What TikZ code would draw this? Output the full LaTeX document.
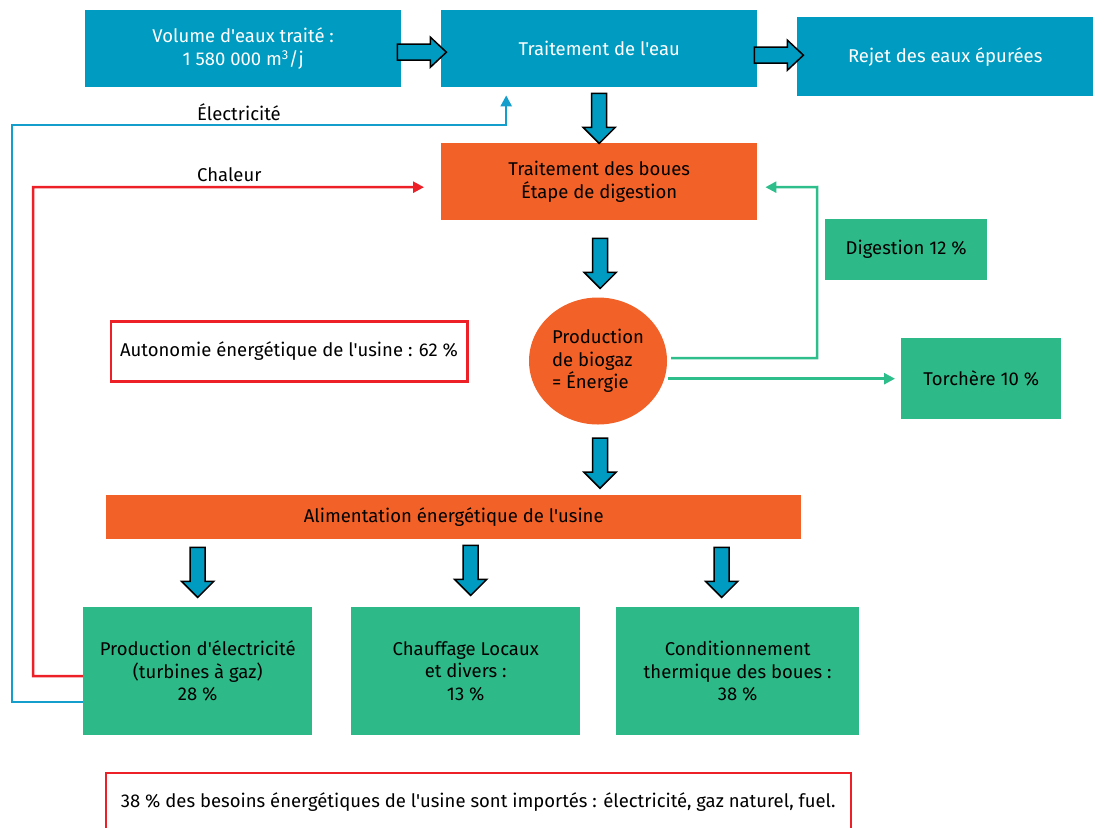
\documentclass[tikz,border=0pt]{standalone}
\usepackage{fontspec}
\setmainfont{Fira Sans}[Ligatures=TeXOff]
\usetikzlibrary{calc,arrows.meta,shapes.geometric}
\definecolor{cblue}{RGB}{0,155,192}
\definecolor{corange}{RGB}{242,97,39}
\definecolor{cgreen}{RGB}{46,185,137}
\definecolor{cred}{RGB}{237,31,39}
\definecolor{cline}{RGB}{20,158,204}
\definecolor{cgline}{RGB}{46,190,140}
\tikzset{
  txt/.style={font=\fontsize{18.5}{22.5}\selectfont},
  bx/.style={rectangle, inner sep=0pt, anchor=north west, align=center, txt},
  bluebox/.style={bx, fill=cblue, text=white},
  orangebox/.style={bx, fill=corange},
  greenbox/.style={bx, fill=cgreen},
  redbox/.style={bx, draw=cred, line width=2.5pt, fill=white},
  fatarrow/.style={draw=black, line width=1.5pt, fill=cblue, line join=miter},
  fatdown/.pic={\path[fatarrow] (-7.5,0) -- (-7.5,-34) -- (-16,-34) -- (0,-50) -- (16,-34) -- (7.5,-34) -- (7.5,0) -- cycle;},
  fatright/.pic={\path[fatarrow] (0,-8) -- (33,-8) -- (33,-15) -- (49,0) -- (33,15) -- (33,8) -- (0,8) -- cycle;},
  conn/.style={line width=2.5pt, -{Triangle[length=11pt,width=11pt]}},
}
\begin{document}
\begin{tikzpicture}[x=1pt,y=1pt]
\useasboundingbox (0,0) rectangle (1105,-827);
% top row
\node[bluebox, minimum width=316pt, minimum height=77pt] (vol) at (85,-10) {Volume d'eaux traité :\\1 580 000 m\textsuperscript{3}/j};
\node[bluebox, minimum width=316pt, minimum height=77pt] (wat) at (441,-10) {Traitement de l'eau};
\node[bluebox, minimum width=296pt, minimum height=79pt] (rej) at (797,-17) {Rejet des eaux épurées};
% sludge
\node[orangebox, minimum width=316pt, minimum height=77pt] (boues) at (441,-143) {Traitement des boues\\Étape de digestion};
\node[greenbox, minimum width=162pt, minimum height=61pt] (dig) at (825,-219) {Digestion 12 \%};
\node[ellipse, fill=corange, inner sep=0pt, minimum width=138pt, minimum height=127pt, align=left, txt] (bio) at (598,-361) {Production\\de biogaz\\= Énergie};
\node[greenbox, minimum width=160pt, minimum height=81pt] (torch) at (901,-338) {Torchère 10 \%};
\node[redbox, minimum width=356.5pt, minimum height=60pt] (auto) at (109.5,-320) {Autonomie énergétique de l'usine : 62 \%};
\node[orangebox, minimum width=695pt, minimum height=44pt] (alim) at (106,-495) {Alimentation énergétique de l'usine};
% bottom row
\node[greenbox, minimum width=229pt, minimum height=128pt] (prod) at (83,-607) {Production d'électricité\\(turbines à gaz)\\28 \%};
\node[greenbox, minimum width=229pt, minimum height=128pt] (chauf) at (351,-607) {Chauffage Locaux\\et divers :\\13 \%};
\node[greenbox, minimum width=243pt, minimum height=128pt] (cond) at (616,-607) {Conditionnement\\thermique des boues :\\38 \%};
\node[redbox, minimum width=745pt, minimum height=58pt] (imp) at (104.5,-771.5) {38 \% des besoins énergétiques de l'usine sont importés : électricité, gaz naturel, fuel.};
% fat arrows
\pic at ($(vol.east)+(-4,-3.5)$) {fatright};
\pic at ($(wat.east)+(-3,-6.5)$) {fatright};
\pic at ($(wat.south)+(0,-6)$) {fatdown};
\pic at ($(boues.south)+(1,-18)$) {fatdown};
\pic at ($(bio.south)+(2,-13.5)$) {fatdown};
\pic at ($(alim.south -| prod.north)+(0,-8)$) {fatdown};
\pic at ($(alim.south -| chauf.north)+(5,-6)$) {fatdown};
\pic at ($(alim.south -| cond.north)+(-16,-8)$) {fatdown};
% connectors
\draw[conn, cline] ($(prod.west)+(0,-31)$) -| (12,-125) -| ($(wat.south)+(-93,-8)$);
\draw[conn, cred] ($(prod.west)+(0,-5)$) -| (33,-187) -- ($(boues.west)+(-17,-5.5)$);
\draw[conn, cgline] ($(bio.east)+(4,3)$) -| (817,-187) -- ($(boues.east)+(8,-5.5)$);
\draw[conn, cgline] ($(bio.east |- torch.west)+(1,0)$) -- ($(torch.west)+(-6,0)$);
% labels
\node[txt, anchor=west, inner sep=0pt] (lelec) at (197,-112) {Électricité};
\node[txt, anchor=west, inner sep=0pt] (lchal) at (197,-175) {Chaleur};
\end{tikzpicture}
\end{document}
